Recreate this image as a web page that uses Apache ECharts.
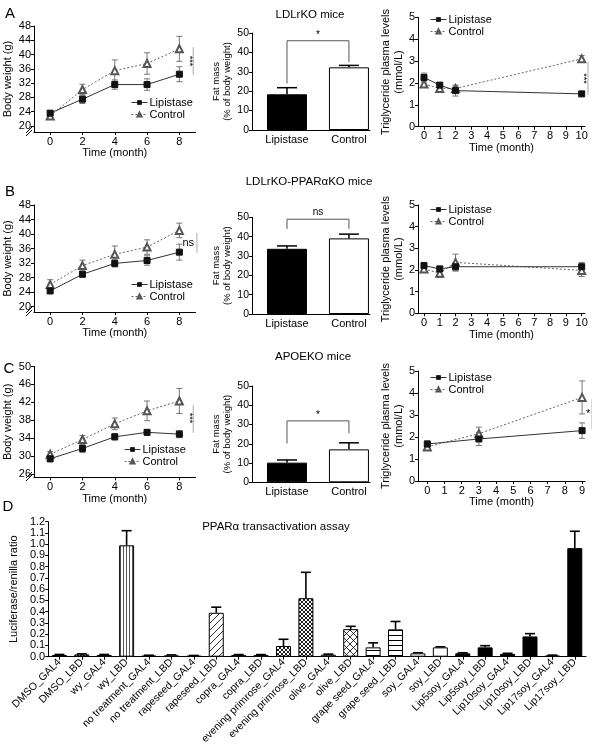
<!DOCTYPE html>
<html><head><meta charset="utf-8">
<script src="https://cdn.jsdelivr.net/npm/echarts@6/dist/echarts.min.js"></script>
<style>html,body{margin:0;padding:0;background:#fff}#c{width:592px;height:753px}</style>
</head><body><div id="c"></div>
<script>
// ---------------- DATA ----------------
const bwMonths = [0, 2, 4, 6, 8];
const bwTicksX = [0, 2, 4, 6, 8];
const bwA_lip = [23.6, 27.5, 31.6, 31.6, 34.5];
const bwA_lipErr = [0.5, 1.2, 1.3, 1.6, 2.1];
const bwA_ctl = [22.8, 30.2, 35.5, 37.5, 41.6];
const bwA_ctlErr = [0.7, 1.5, 3.0, 3.0, 3.5];
const bwB_lip = [24.3, 28.9, 31.9, 32.7, 35.0];
const bwB_lipErr = [0.5, 0.7, 1.0, 1.3, 2.2];
const bwB_ctl = [26.1, 31.3, 34.4, 36.4, 41.0];
const bwB_ctlErr = [1.3, 1.5, 2.3, 2.0, 2.0];
const bwC_lip = [29.4, 31.7, 34.3, 35.3, 34.9];
const bwC_lipErr = [0.7, 0.9, 0.7, 0.6, 0.8];
const bwC_ctl = [30.4, 33.7, 37.2, 40.1, 42.3];
const bwC_ctlErr = [0.6, 0.9, 1.3, 2.2, 2.8];
const bwAB_yTicks = [20, 24, 28, 32, 36, 40, 44, 48];
const bwC_yTicks = [26, 30, 34, 38, 42, 46, 50];

const fatGroups = ['Lipistase', 'Control'];
const fatA = [18.4, 32.3], fatAErr = [3.4, 1.0];
const fatB = [33.7, 39.1], fatBErr = [1.5, 2.2];
const fatC = [10.2, 17.1], fatCErr = [1.4, 3.4];

const trAB_months = [0, 1, 2, 10];
const trA_lip = [2.25, 1.9, 1.65, 1.5], trA_lipErr = [0.2, 0.1, 0.25, 0.05];
const trA_ctl = [1.95, 1.75, 1.75, 3.1], trA_ctlErr = [0.15, 0.1, 0.1, 0.15];
const trB_lip = [2.2, 2.05, 2.15, 2.15], trB_lipErr = [0.15, 0.12, 0.2, 0.2];
const trB_ctl = [2.05, 1.85, 2.35, 1.98], trB_ctlErr = [0.15, 0.2, 0.38, 0.28];
const trC_months = [0, 3, 9];
const trC_lip = [1.68, 1.91, 2.29], trC_lipErr = [0.15, 0.3, 0.35];
const trC_ctl = [1.55, 2.15, 3.8], trC_ctlErr = [0.15, 0.3, 0.75];
const trAB_xTicks = [0, 1, 2, 3, 4, 5, 6, 7, 8, 9, 10];
const trC_xTicks = [0, 1, 2, 3, 4, 5, 6, 7, 8, 9];

const dCats = ['DMSO_GAL4', 'DMSO_LBD', 'wy_GAL4', 'wy_LBD', 'no treatment_GAL4', 'no treatment_LBD',
  'rapeseed_GAL4', 'rapeseed_LBD', 'copra_GAL4', 'copra_LBD', 'evening primrose_GAL4', 'evening primrose_LBD',
  'olive_GAL4', 'olive_LBD', 'grape seed_GAL4', 'grape seed_LBD', 'soy_GAL4', 'soy_LBD',
  'Lip5soy_GAL4', 'Lip5soy_LBD', 'Lip10soy_GAL4', 'Lip10soy_LBD', 'Lip17soy_GAL4', 'Lip17soy_LBD'];
const dVals = [0.015, 0.02, 0.015, 0.99, 0.01, 0.012, 0.008, 0.39, 0.015, 0.015, 0.095, 0.52,
  0.018, 0.245, 0.083, 0.243, 0.03, 0.083, 0.03, 0.083, 0.025, 0.18, 0.01, 0.965];
const dErrs = [0.005, 0.005, 0.005, 0.13, 0.003, 0.004, 0.003, 0.05, 0.004, 0.004, 0.06, 0.23,
  0.005, 0.025, 0.04, 0.07, 0.005, 0.005, 0.005, 0.015, 0.005, 0.025, 0.004, 0.15];
const dFill = ['dots', 'dots', 'vstripe', 'vstripe', 'white', 'white', 'diag', 'diag', 'white', 'white',
  'dense', 'dense', 'xhatch', 'xhatch', 'hstripe', 'hstripe', 'white', 'white',
  'black', 'black', 'black', 'black', 'black', 'black'];

// significance annotations (data coordinates)
const sigA_bw = {x: 8.86, y1: 34.3, y2: 42.1, tx: 8.6, ty: 38.2, text: '***', rot: true};
const sigB_bw = {x: 9.09, y1: 34.8, y2: 40.3, tx: 8.55, ty: 37.6, text: 'ns', rot: false};
const sigC_bw = {x: 8.86, y1: 35.2, y2: 41.4, tx: 8.6, ty: 38.5, text: '***', rot: true};
const sigA_tr = {x: 10.4, y1: 1.45, y2: 2.96, tx: 10.1, ty: 2.2, text: '***', rot: true};
const sigC_tr = {x: 9.58, y1: 2.34, y2: 3.72, tx: 9.35, ty: 3.03, text: '*', rot: false};
const brA = {yTop: 46, yL: 24, yR: 35, ty: 49, text: '*'};
const brB = {yTop: 49, yL: 44, yR: 44, ty: 52.5, text: 'ns'};
const brC = {yTop: 31.9, yL: 20.2, yR: 25.4, ty: 34.9, text: '*'};

// ---------------- STYLE / LAYOUT ----------------
const F = "'Liberation Sans', Arial, Helvetica, sans-serif";
const grids = [
  {left: 33, top: 26, width: 162.5, height: 106},      // 0 bwA
  {left: 252, top: 33, width: 118, height: 97},        // 1 fatA
  {left: 418, top: 17.3, width: 167, height: 109.4},   // 2 trA
  {left: 33, top: 205, width: 162.5, height: 107},     // 3 bwB
  {left: 252, top: 217.3, width: 118, height: 96.7},   // 4 fatB
  {left: 418, top: 205, width: 167, height: 108.3},    // 5 trB
  {left: 33, top: 366.5, width: 162.5, height: 110.8}, // 6 bwC
  {left: 252, top: 386, width: 118, height: 96.3},     // 7 fatC
  {left: 418, top: 371, width: 167, height: 110},      // 8 trC
  {left: 34, top: 521.7, width: 552, height: 135}      // 9 D
];

function axLine() { return {show: true, onZero: false, lineStyle: {color: '#000', width: 1}}; }
function valX(gi, min, max, ticks, name, gap) {
  return {type: 'value', gridIndex: gi, min, max, axisLine: axLine(),
    axisTick: {show: true, length: 3, customValues: ticks, lineStyle: {color: '#000'}},
    axisLabel: {customValues: ticks, color: '#000', fontSize: 11, fontFamily: F, margin: 4},
    splitLine: {show: false}, name, nameLocation: 'middle', nameGap: gap,
    nameTextStyle: {color: '#000', fontSize: 11, fontFamily: F}};
}
function valY(gi, min, max, ticks, name, gap, nfs, fs) {
  return {type: 'value', gridIndex: gi, min, max, axisLine: axLine(),
    axisTick: {show: true, length: 3, customValues: ticks, lineStyle: {color: '#000'}},
    axisLabel: {customValues: ticks, color: '#000', fontSize: fs || 11, fontFamily: F, margin: 3},
    splitLine: {show: false}, name, nameLocation: 'middle', nameRotate: 90, nameGap: gap,
    nameTextStyle: {color: '#000', fontSize: nfs || 11, fontFamily: F, lineHeight: nfs ? nfs + 2 : 13}};
}
function fatX(gi) {
  return {type: 'value', gridIndex: gi, min: 0.435, max: 2.34, axisLine: axLine(),
    axisTick: {show: false},
    axisLabel: {customValues: [1, 2], formatter: v => fatGroups[Math.round(v) - 1], color: '#000', fontSize: 11, fontFamily: F, margin: 4},
    splitLine: {show: false}};
}
const fatYTicks = [0, 10, 20, 30, 40, 50];
const trYTicks = [0, 1, 2, 3, 4, 5];

const xAxes = [
  valX(0, -1, 9, bwTicksX, 'Time (month)', 14),
  fatX(1),
  valX(2, -0.38, 10.21, trAB_xTicks, 'Time (month)', 14),
  valX(3, -1, 9, bwTicksX, 'Time (month)', 14),
  fatX(4),
  valX(5, -0.38, 10.21, trAB_xTicks, 'Time (month)', 14),
  valX(6, -1, 9, bwTicksX, 'Time (month)', 14),
  fatX(7),
  valX(8, -0.54, 9.17, trC_xTicks, 'Time (month)', 14),
  {type: 'category', gridIndex: 9, data: dCats, axisLine: axLine(),
    axisTick: {show: true, alignWithLabel: true, length: 3, lineStyle: {color: '#000'}},
    axisLabel: {interval: 0, rotate: 45, color: '#000', fontSize: 10.5, fontFamily: F, margin: 4}}
];
const bwName = 'Body weight (g)';
const fatName = 'Fat mass\n(% of body weight)';
const trName = 'Triglyceride plasma levels\n(mmol/L)';
const yAxes = [
  valY(0, 18.32, 48, bwAB_yTicks, bwName, 20),
  valY(1, 0, 50, fatYTicks, fatName, 13, 9.5, 10.5),
  valY(2, 0, 5, trYTicks, trName, 12),
  valY(3, 18.5, 48, bwAB_yTicks, bwName, 20),
  valY(4, 0, 50, fatYTicks, fatName, 13, 9.5, 10.5),
  valY(5, 0, 5, trYTicks, trName, 12),
  valY(6, 25.26, 50, bwC_yTicks, bwName, 20),
  valY(7, 0, 50, fatYTicks, fatName, 13, 9.5, 10.5),
  valY(8, 0, 5, trYTicks, trName, 12),
  {type: 'value', gridIndex: 9, min: 0, max: 1.2, interval: 0.1, axisLine: axLine(),
    axisTick: {show: true, length: 3, lineStyle: {color: '#000'}},
    axisLabel: {color: '#000', fontSize: 11, fontFamily: F, margin: 3, formatter: v => v.toFixed(1)},
    splitLine: {show: false}, name: 'Luciferase/renilla ratio', nameLocation: 'middle', nameRotate: 90, nameGap: 20,
    nameTextStyle: {color: '#000', fontSize: 11, fontFamily: F}}
];

// ---------------- SERIES HELPERS ----------------
function errSeries(gi, xs, ys, es, opt) {
  return {type: 'custom', xAxisIndex: gi, yAxisIndex: gi, z: opt.z || 2, silent: true, animation: false,
    data: xs.map((x, i) => [x, ys[i], es[i]]),
    encode: {x: 0, y: 1},
    renderItem: function (params, api) {
      const x = api.value(0), y = api.value(1), e = api.value(2);
      const t = api.coord([x, y + e]), b = api.coord([x, opt.up ? y : y - e]);
      const h = opt.cap, st = {stroke: opt.color, lineWidth: opt.lw || 1};
      const ch = [
        {type: 'line', shape: {x1: t[0], y1: t[1], x2: b[0], y2: b[1]}, style: st},
        {type: 'line', shape: {x1: t[0] - h, y1: t[1], x2: t[0] + h, y2: t[1]}, style: st}];
      if (!opt.up) ch.push({type: 'line', shape: {x1: b[0] - h, y1: b[1], x2: b[0] + h, y2: b[1]}, style: st});
      return {type: 'group', children: ch};
    }};
}
function lineSeries(gi, name, xs, ys, ctl) {
  return {type: 'line', name, xAxisIndex: gi, yAxisIndex: gi, data: xs.map((x, i) => [x, ys[i]]),
    symbol: ctl ? 'emptyTriangle' : 'rect', symbolSize: ctl ? 7 : 6, z: 3, animation: false,
    lineStyle: {color: ctl ? '#666' : '#333', width: 1, type: ctl ? [2, 2] : 'solid'},
    itemStyle: {color: ctl ? '#555' : '#111', borderColor: ctl ? '#555' : '#111', borderWidth: 1},
    emphasis: {disabled: true}};
}
function sigSeries(gi, s) {
  return {type: 'custom', xAxisIndex: gi, yAxisIndex: gi, silent: true, animation: false, z: 4,
    data: [[s.x, s.y1, s.y2, s.tx, s.ty]], encode: {x: 0, y: 1},
    renderItem: function (params, api) {
      const a = api.coord([api.value(0), api.value(1)]), b = api.coord([api.value(0), api.value(2)]);
      const t = api.coord([api.value(3), api.value(4)]);
      return {type: 'group', children: [
        {type: 'line', shape: {x1: a[0], y1: a[1], x2: b[0], y2: b[1]}, style: {stroke: '#aaa', lineWidth: 1}},
        {type: 'text', x: t[0], y: t[1], rotation: s.rot ? -Math.PI / 2 : 0,
          style: {text: s.text, fill: '#000', font: (s.rot ? '9px ' : '11px ') + F, align: 'center', verticalAlign: 'middle'}}]};
    }};
}
function bracketSeries(gi, br) {
  return {type: 'custom', xAxisIndex: gi, yAxisIndex: gi, silent: true, animation: false, z: 4,
    data: [[1, br.yTop, br.yL, br.yR, br.ty]], encode: {x: 0, y: 1},
    renderItem: function (params, api) {
      const l0 = api.coord([1, api.value(2)]), l1 = api.coord([1, api.value(1)]);
      const r1 = api.coord([2, api.value(1)]), r0 = api.coord([2, api.value(3)]);
      const t = api.coord([1.5, api.value(4)]);
      return {type: 'group', children: [
        {type: 'polyline', shape: {points: [l0, l1, r1, r0]}, style: {stroke: '#555', lineWidth: 1, fill: null}},
        {type: 'text', x: t[0], y: t[1], style: {text: br.text, fill: '#000', font: '10px ' + F, align: 'center', verticalAlign: 'middle'}}]};
    }};
}
function fatSeries(gi, vals, errs, br) {
  return [
    {type: 'bar', xAxisIndex: gi, yAxisIndex: gi, barWidth: 40, animation: false, silent: true, z: 3,
      data: [
        {value: [1, vals[0]], itemStyle: {color: '#000', borderColor: '#000', borderWidth: 1}},
        {value: [2, vals[1]], itemStyle: {color: '#fff', borderColor: '#000', borderWidth: 1}}]},
    errSeries(gi, [1, 2], vals, errs, {cap: 10, color: '#000', lw: 1.5, up: true, z: 2}),
    bracketSeries(gi, br)
  ];
}
function bwTrSeries(gi, xs, lip, lipE, ctl, ctlE, cap) {
  return [
    errSeries(gi, xs, ctl, ctlE, {cap: cap, color: '#777'}),
    errSeries(gi, xs, lip, lipE, {cap: cap, color: '#777'}),
    lineSeries(gi, 'Control', xs, ctl, true),
    lineSeries(gi, 'Lipistase', xs, lip, false)
  ];
}

// patterns for panel D
function mk(w, h, bg, fn) {
  const c = document.createElement('canvas'); c.width = w; c.height = h;
  const g = c.getContext('2d'); g.fillStyle = bg; g.fillRect(0, 0, w, h);
  g.strokeStyle = '#000'; g.fillStyle = '#000'; fn(g, w, h);
  return {image: c, repeat: 'repeat'};
}
function diagLines(g, w, h, dir) {
  g.beginPath();
  for (let k = -1; k <= 1; k++) {
    if (dir > 0) { g.moveTo(k * w, h); g.lineTo(k * w + w, 0); }
    else { g.moveTo(k * w, 0); g.lineTo(k * w + w, h); }
  }
  g.stroke();
}
const PAT = {
  white: '#fff',
  black: '#000',
  dots: mk(3, 3, '#111', g => { g.fillStyle = '#fff'; g.fillRect(1, 1, 1, 1); }),
  vstripe: mk(3, 4, '#fff', g => { g.fillStyle = '#555'; g.fillRect(0, 0, 1, 4); }),
  diag: mk(7, 7, '#fff', (g, w, h) => { g.lineWidth = 0.8; diagLines(g, w, h, 1); }),
  dense: mk(4, 4, '#fff', (g, w, h) => { g.lineWidth = 0.9; diagLines(g, w, h, 1); diagLines(g, w, h, -1); }),
  xhatch: mk(7, 7, '#fff', (g, w, h) => { g.lineWidth = 0.8; diagLines(g, w, h, 1); diagLines(g, w, h, -1); }),
  hstripe: mk(4, 5, '#fff', g => { g.fillRect(0, 0, 4, 1); })
};

const series = [].concat(
  bwTrSeries(0, bwMonths, bwA_lip, bwA_lipErr, bwA_ctl, bwA_ctlErr, 3),
  [sigSeries(0, sigA_bw)],
  fatSeries(1, fatA, fatAErr, brA),
  bwTrSeries(2, trAB_months, trA_lip, trA_lipErr, trA_ctl, trA_ctlErr, 3),
  [sigSeries(2, sigA_tr)],
  bwTrSeries(3, bwMonths, bwB_lip, bwB_lipErr, bwB_ctl, bwB_ctlErr, 3),
  [sigSeries(3, sigB_bw)],
  fatSeries(4, fatB, fatBErr, brB),
  bwTrSeries(5, trAB_months, trB_lip, trB_lipErr, trB_ctl, trB_ctlErr, 3),
  bwTrSeries(6, bwMonths, bwC_lip, bwC_lipErr, bwC_ctl, bwC_ctlErr, 3),
  [sigSeries(6, sigC_bw)],
  fatSeries(7, fatC, fatCErr, brC),
  bwTrSeries(8, trC_months, trC_lip, trC_lipErr, trC_ctl, trC_ctlErr, 3),
  [sigSeries(8, sigC_tr)],
  [
    {type: 'bar', xAxisIndex: 9, yAxisIndex: 9, barWidth: 15, animation: false, silent: true, z: 3,
      data: dVals.map((v, i) => ({value: v, itemStyle: {color: PAT[dFill[i]], borderColor: '#000', borderWidth: 1}}))},
    errSeries(9, dCats.map((c, i) => i), dVals, dErrs, {cap: 5, color: '#000', lw: 1.6, up: true, z: 2})
  ]
);

function legendAt(left, top) {
  return {left, top, orient: 'vertical', padding: 0, itemGap: 1, itemWidth: 16, itemHeight: 5,
    selectedMode: false, data: ['Lipistase', 'Control'],
    itemStyle: {borderWidth: 0.8}, lineStyle: {width: 1},
    textStyle: {color: '#000', fontSize: 11, fontFamily: F, padding: [0, 0, 0, -3]}};
}

function txt(x, y, text, size, align) {
  return {type: 'text', x, y, silent: true,
    style: {text, fill: '#000', font: size + 'px ' + F, align: align || 'center', verticalAlign: 'middle'}};
}
function breakMark(x, y) {
  return [
    {type: 'line', silent: true, shape: {x1: x - 5, y1: y + 4, x2: x + 1, y2: y - 2}, style: {stroke: '#000', lineWidth: 1}},
    {type: 'line', silent: true, shape: {x1: x - 5, y1: y + 7, x2: x + 1, y2: y + 1}, style: {stroke: '#000', lineWidth: 1}}
  ];
}

const chart = echarts.init(document.getElementById('c'), null, {renderer: 'canvas', width: 592, height: 753});
chart.setOption({
  backgroundColor: '#fff',
  animation: false,
  grid: grids,
  xAxis: xAxes,
  yAxis: yAxes,
  legend: [legendAt(131, 97), legendAt(430, 14), legendAt(131, 279), legendAt(430, 204), legendAt(124, 444), legendAt(430, 372)],
  series,
  graphic: [
    txt(10, 14, 'A', 15), txt(10, 192, 'B', 15), txt(9, 369, 'C', 15), txt(8, 507, 'D', 15),
    txt(310, 15, 'LDLrKO mice', 11.5), txt(309, 182, 'LDLrKO-PPARαKO mice', 11.5),
    txt(313, 357, 'APOEKO mice', 11.5), txt(276, 527, 'PPARα transactivation assay', 11.5)
  ].concat(breakMark(31, 129), breakMark(31, 309), breakMark(31, 474))
});
</script></body></html>
